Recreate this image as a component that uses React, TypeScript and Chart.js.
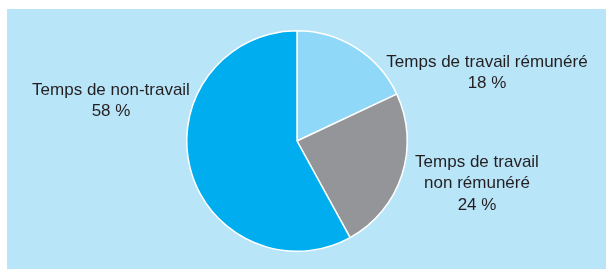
import React, { useEffect, useRef } from "react";
import { Chart, registerables } from "chart.js";

Chart.register(...registerables);

const categories = ["Temps de travail rémunéré", "Temps de travail non rémunéré", "Temps de non-travail"];
const values = [18, 24, 58];
const labelLines = [
  ["Temps de travail rémunéré", "18 %"],
  ["Temps de travail", "non rémunéré", "24 %"],
  ["Temps de non-travail", "58 %"],
];
const sliceColors = ["#8fd8f8", "#939598", "#00aeef"];
// label anchor offsets relative to pie centre (style only)
const labelOffsets = [
  [190, -79],
  [180, 21],
  [-186, -51],
];

const labelPlugin = {
  id: "sliceLabels",
  afterDraw(chart: any) {
    const meta = chart.getDatasetMeta(0);
    const arc = meta.data[0];
    if (!arc) return;
    const cx = arc.x;
    const cy = arc.y;
    const ctx = chart.ctx;
    ctx.save();
    ctx.font = '17px "Liberation Sans", Arial, sans-serif';
    ctx.fillStyle = "#231f20";
    ctx.textAlign = "center";
    ctx.textBaseline = "middle";
    labelLines.forEach((lines, i) => {
      const [ox, oy] = labelOffsets[i];
      lines.forEach((line, j) => {
        ctx.fillText(line, cx + ox, cy + oy + j * 21.5);
      });
    });
    ctx.restore();
  },
};

export default function App() {
  const ref = useRef<HTMLCanvasElement>(null);
  useEffect(() => {
    if (!ref.current) return;
    const chart = new Chart(ref.current, {
      type: "pie",
      data: {
        labels: categories,
        datasets: [
          {
            data: values,
            backgroundColor: sliceColors,
            borderColor: "#ffffff",
            borderWidth: 1.5,
          },
        ],
      },
      options: {
        animation: false,
        responsive: false,
        maintainAspectRatio: false,
        rotation: 0,
        layout: { padding: { left: 186, right: 198, top: 30, bottom: 17 } },
        plugins: {
          legend: { display: false },
          tooltip: { enabled: false },
        },
      },
      plugins: [labelPlugin],
    });
    return () => chart.destroy();
  }, []);
  return (
    <div style={{ position: "fixed", left: 0, top: 0, width: 606, height: 269, background: "#ffffff" }}>
      <div style={{ position: "absolute", left: 7, top: 9, width: 599, height: 260, background: "#b9e5f9" }} />
      <canvas ref={ref} width={606} height={269} style={{ position: "absolute", left: 0, top: 0 }} />
    </div>
  );
}
